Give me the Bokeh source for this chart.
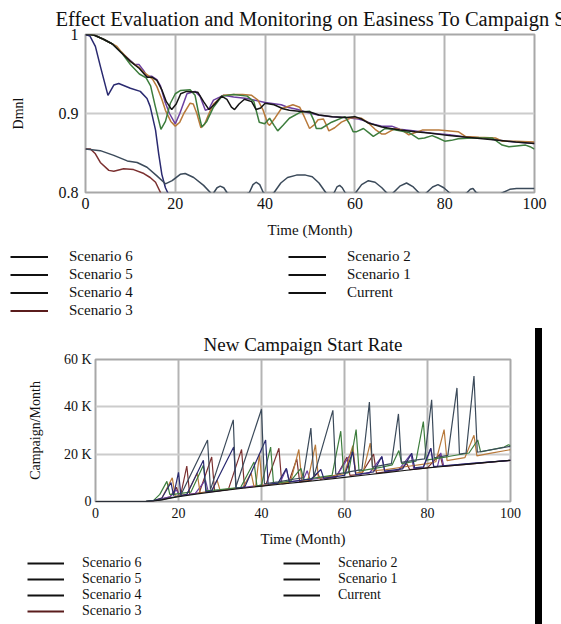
from bokeh.plotting import figure
from bokeh.models import Range1d, FixedTicker, Legend, LegendItem, Div
from bokeh.layouts import column, row
from bokeh.embed import file_html
from bokeh.resources import INLINE

FONT = "Liberation Serif"

# ---------------- data ----------------
series_names = ["Scenario 6", "Scenario 5", "Scenario 4", "Scenario 3",
                "Scenario 2", "Scenario 1", "Current"]

top_title = "Effect Evaluation and Monitoring on Easiness To Campaign Start"
top_ylabel = "Dmnl"
top_y_ticks = [0.8, 0.9, 1.0]
top_y_labels = ["0.8", "0.9", "1"]
x_ticks = [0, 20, 40, 60, 80, 100]
xlabel = "Time (Month)"

top_s6_t = [0, 1, 2.2, 3.3, 5, 6.3, 7.4, 10, 12.2, 13.7, 14.4, 15.6, 16.3, 17, 17.8, 18.3, 19, 22, 30, 100]
top_s6_v = [1.0, 0.998, 0.985, 0.96, 0.923, 0.936, 0.938, 0.932, 0.928, 0.919, 0.909, 0.879, 0.849, 0.823, 0.806, 0.8, 0.79, 0.775, 0.76, 0.74]

top_s5_t = [0, 3.3, 6.3, 9.3, 11.5, 13.7, 15.9, 17.8, 19.3, 21.1, 22.2, 24.1, 26.3, 27.8, 28.2,
            28.6, 29.3, 30, 30.8, 31.5, 33.5, 36.5, 37.3, 38, 38.8, 39.6, 40.8,
            42, 43.5, 45, 47, 49, 50.5, 52, 53.5, 54.5, 55.4, 56, 56.6, 57.2, 57.8, 59,
            60.2, 61.5, 63, 64.5, 66, 67, 67.8, 68.6, 70, 71.5, 73, 74.2, 75.2,
            76, 77.3, 78.5, 79.8, 81, 83, 85, 85.7, 86.3, 87, 90, 93, 94.5, 96, 100]
top_s5_v = [0.855, 0.853, 0.847, 0.840, 0.838, 0.832, 0.821, 0.811, 0.815, 0.823, 0.824, 0.819, 0.809, 0.8, 0.796,
            0.8, 0.806, 0.808, 0.806, 0.8, 0.792, 0.8, 0.81, 0.813, 0.81, 0.8, 0.795,
            0.8, 0.812, 0.819, 0.822, 0.822, 0.82, 0.812, 0.8, 0.796, 0.8, 0.807, 0.809, 0.806, 0.8, 0.795,
            0.8, 0.81, 0.815, 0.813, 0.806, 0.8, 0.796, 0.8, 0.808, 0.812, 0.807, 0.8, 0.796,
            0.8, 0.807, 0.81, 0.806, 0.8, 0.792, 0.8, 0.804, 0.805, 0.8, 0.792, 0.8, 0.804, 0.805, 0.805]

top_s4_t = [0, 1, 2, 4, 6, 8, 10, 12, 13.7, 14.8, 15.9, 17, 18, 19.2, 20.2, 21.2, 22.5, 25, 26.3, 27.5,
            28.8, 30.3, 31.5, 32.5, 33.2, 34.2, 35.4, 37, 38, 39, 40, 42, 44, 45.4, 47.5, 50, 52, 55,
            58, 60, 61.5, 63, 66, 70, 73.4, 77, 81, 85, 88.4, 92, 95.8, 100]
top_s4_v = [1.0, 1.0, 0.999, 0.994, 0.988, 0.977, 0.966, 0.957, 0.946, 0.946, 0.942, 0.93, 0.915, 0.905, 0.912, 0.925, 0.928, 0.927, 0.915, 0.905,
            0.912, 0.922, 0.918, 0.908, 0.905, 0.912, 0.918, 0.915, 0.905, 0.907, 0.913, 0.911, 0.906, 0.904, 0.903, 0.902, 0.898, 0.896,
            0.895, 0.896, 0.893, 0.888, 0.883, 0.879, 0.877, 0.875, 0.872, 0.87, 0.868, 0.866, 0.864, 0.862]

top_s3_t = [0, 1.1, 2.2, 3.3, 5.2, 6.3, 8.5, 10.7, 13, 14.4, 15.6, 16.7, 17.5, 20, 100]
top_s3_v = [0.855, 0.855, 0.849, 0.838, 0.828, 0.827, 0.830, 0.829, 0.824, 0.819, 0.813, 0.8, 0.792, 0.78, 0.7]

top_s2_t = [0, 1, 2, 4, 6, 8, 10, 12, 13.5, 14.5, 15.5, 16.8, 17.8, 18.9, 20, 21.1, 23.3, 24.4, 25.2, 25.9,
            27, 28.5, 30.4, 33, 36, 37.5, 38.7, 39.9, 41, 42, 42.8, 44, 45.4, 48, 49.9, 50.8, 51.4, 52.5,
            54.8, 57.8, 58.8, 59.6, 60.4, 61.9, 63, 64.1, 65.5, 66.7, 68.2, 70, 72, 74.2, 75.5, 77.2, 78.5,
            80, 81.5, 83, 86, 88, 90.6, 91.8, 92.8, 94.3, 96, 98, 99, 100]
top_s2_v = [1.0, 1.0, 0.999, 0.994, 0.988, 0.977, 0.962, 0.95, 0.945, 0.935, 0.91, 0.88, 0.89, 0.913, 0.925, 0.929, 0.93, 0.923, 0.9, 0.883,
            0.89, 0.908, 0.922, 0.924, 0.922, 0.915, 0.889, 0.887, 0.894, 0.885, 0.878, 0.885, 0.894, 0.902, 0.903, 0.892, 0.881, 0.881,
            0.889, 0.896, 0.887, 0.877, 0.877, 0.881, 0.876, 0.871, 0.876, 0.881, 0.88, 0.878, 0.876, 0.868, 0.869, 0.872, 0.869,
            0.865, 0.866, 0.868, 0.869, 0.869, 0.869, 0.864, 0.86, 0.858, 0.859, 0.86, 0.858, 0.855]

top_s1_t = [0, 1, 2, 4, 6, 7, 8, 10, 11, 12, 13, 14, 15, 15.9, 17, 17.8, 19, 20, 21, 21.9, 23.3, 24, 24.8, 25.7,
            26.5, 27.5, 28.5, 30.7, 33, 35, 37, 38.4, 39.5, 40.6, 41, 42.3, 43.6, 46.2, 47.7, 48.8, 49.9, 51,
            51.8, 53, 53.6, 54.2, 55.5, 57, 59.3, 61.5, 63, 64.5, 66, 66.7, 68, 69, 70.5, 72, 73.5, 75, 78.7,
            83, 84.6, 87.6, 91.3, 92.8, 95.8, 100]
top_s1_v = [1.0, 1.0, 0.999, 0.994, 0.988, 0.985, 0.978, 0.966, 0.962, 0.958, 0.952, 0.948, 0.943, 0.934, 0.918, 0.904, 0.89, 0.884, 0.889, 0.9, 0.913, 0.912, 0.9, 0.882,
            0.886, 0.9, 0.912, 0.923, 0.924, 0.924, 0.923, 0.917, 0.905, 0.887, 0.885, 0.895, 0.906, 0.911, 0.908, 0.895, 0.881, 0.886,
            0.892, 0.893, 0.886, 0.878, 0.882, 0.889, 0.895, 0.894, 0.888, 0.88, 0.874, 0.874, 0.878, 0.881, 0.879, 0.873, 0.876, 0.879, 0.879,
            0.877, 0.871, 0.87, 0.869, 0.865, 0.865, 0.864]

top_cur_t = [0, 1, 2, 4, 6, 8, 10, 11, 11.9, 13, 13.7, 14.8, 15.9, 16.7, 17.7, 18.7, 20, 21, 22.6, 24.4, 25.5,
             26.7, 27.5, 28.5, 30.7, 33, 36, 40, 43.6, 45, 47.3, 49, 51.8, 54.8, 57.8, 60.8, 62.5, 63.7, 66,
             68.2, 70, 73.4, 77, 81, 85, 88.4, 92, 95.8, 100]
top_cur_v = [1.0, 1.0, 0.999, 0.994, 0.988, 0.977, 0.967, 0.962, 0.962, 0.954, 0.947, 0.947, 0.943, 0.935, 0.915, 0.9, 0.887, 0.9, 0.925, 0.928, 0.922,
             0.904, 0.906, 0.917, 0.923, 0.921, 0.919, 0.914, 0.911, 0.908, 0.905, 0.902, 0.898, 0.896, 0.895, 0.893, 0.89, 0.887, 0.884,
             0.884, 0.88, 0.878, 0.875, 0.873, 0.87, 0.869, 0.866, 0.864, 0.862]

bot_title = "New Campaign Start Rate"
bot_ylabel = "Campaign/Month"
bot_y_ticks = [0, 20000, 40000, 60000]
bot_y_labels = ["0", "20 K", "40 K", "60 K"]

# bottom chart values in thousands of campaigns per month
bot_s6_t = [0, 12, 14, 16, 18.2, 18.8, 20, 20.6, 22, 26, 26.6, 28, 33.3, 33.9, 36, 41, 41.6, 44, 46, 46.7,
            52, 54.3, 55, 60, 62, 62.7, 67, 69, 69.7, 74, 76.2, 76.9, 79, 80.8, 81.5, 90, 100]
bot_s6_k = [0, 0, 0.4, 1.5, 8, 2.5, 12.3, 2.5, 3, 17.4, 4, 4.5, 23, 5.5, 6.2, 26, 7.3, 7.8, 14, 8.3,
            9.5, 13.5, 9.8, 11, 21, 11.4, 12.5, 19, 12.8, 13.8, 20.4, 14.2, 14.6, 22.5, 14.8, 16, 17.4]

bot_s5_t = [0, 12, 15, 18, 20.5, 27, 27.7, 33.2, 33.8, 40, 40.7, 44, 48, 50, 51.9, 52.6, 57.2, 57.9, 61,
            64.2, 66, 66.7, 71.3, 73, 73.7, 77, 79.3, 81, 81.6, 84.9, 87.1, 87.7, 89.3, 91.2, 92, 100]
bot_s5_k = [0, 0, 0.5, 1.5, 2.5, 26, 5, 34.5, 6, 39, 7.5, 8.3, 9.5, 10, 31, 10.5, 38.5, 11.5, 12.5,
            13.5, 42, 14.5, 16, 37, 16.5, 17.5, 18, 43, 18.5, 19.5, 48, 20, 20.5, 53, 20.8, 23.3]

bot_s4_t = [0, 12, 14, 16, 18, 20, 25, 30, 35, 40, 45, 50, 55, 60, 65, 70, 75, 80, 85, 90, 95, 100]
bot_s4_k = [0, 0, 0.2, 0.7, 1.4, 2.0, 3.3, 4.5, 5.5, 6.5, 7.4, 8.3, 9.2, 10.2, 11.2, 12.2, 13.2, 14.2, 15.0, 15.8, 16.6, 17.4]

bot_s3_t = [0, 12, 14, 16, 18, 19.5, 20.2, 20.5, 22, 22.7, 25, 28, 28.7, 32, 35.2, 35.9, 41, 44.2, 44.9, 46.5,
            48.5, 49.2, 52, 53.5, 54.2, 58, 60.6, 61.3, 64, 67, 67.7, 70, 73, 75, 75.7, 80, 83, 83.7, 90, 100]
bot_s3_k = [0, 0, 0.3, 1, 2, 6, 2.4, 2.5, 15, 3, 3.7, 18.8, 4.3, 5, 22, 5.8, 6.8, 22.5, 7.4, 7.8,
            18, 8.3, 9, 12, 9.3, 10.3, 18.8, 11, 11.5, 20, 12, 12.5, 13.2, 16, 13.5, 14.2, 20, 14.8, 15.8, 17.4]

bot_s2_t = [0, 12, 14, 15.5, 17.2, 17.9, 19, 20, 23, 26, 26.7, 30, 35, 38.2, 38.9, 40, 42.2, 42.9, 47,
            49.5, 50.2, 53, 57, 59.1, 59.8, 61, 62.8, 63.5, 69, 71.5, 73.1, 73.8, 77.2, 79, 79.7, 85, 90,
            92.1, 92.8, 98.5, 99.5, 100]
bot_s2_k = [0, 0, 0.5, 3, 8.5, 3, 3, 3.3, 4, 15.3, 4.5, 5, 6, 16.7, 6.5, 7, 23, 7.6, 8.6,
            14, 9.2, 10, 11, 29.7, 11.8, 12.2, 30.4, 12.8, 14.5, 15.5, 21.5, 16, 17, 33.8, 17.5, 19, 20.5,
            26, 21, 23, 24, 23.6]

bot_s1_t = [0, 12, 14, 16, 18.5, 19.2, 22, 24.5, 25.2, 28, 29.3, 30, 35.5, 37.5, 38.2, 38.6, 39.5, 40.2, 47,
            49, 49.7, 51.2, 53, 53.7, 60, 62, 62.7, 64.5, 66.2, 66.9, 70, 75, 80, 82, 84, 84.7, 89, 91.2,
            91.9, 95, 100]
bot_s1_k = [0, 0, 0.3, 1.5, 10, 2.2, 3, 12, 3.7, 4.5, 9, 4.8, 5.9, 12, 6.3, 6.5, 20, 6.7, 8.3,
            22, 8.8, 9.1, 24, 9.8, 11.8, 23.6, 12, 12.5, 24.7, 13, 13.5, 14.8, 16, 16.8, 30.4, 17.3, 18.5, 28,
            19.3, 20.3, 21.9]

bot_cur_t = [0, 12, 14, 16, 18, 19.5, 20.2, 24, 26.5, 27.2, 30, 33, 35, 38, 42, 44.5, 46, 46.7, 50, 51, 51.7,
             55, 58, 62, 62.7, 66, 69, 69.7, 73, 76, 76.7, 79, 80.8, 81.5, 82.4, 83.2, 83.9, 90, 95, 100]
bot_cur_k = [0, 0, 0.3, 1.2, 2, 5, 2.4, 3.3, 9, 4, 4.6, 5.4, 5.8, 6.5, 7.3, 8, 13.8, 8.3, 9, 13, 9.3,
             10, 10.6, 21.5, 11.3, 12, 19, 12.6, 13.3, 20, 13.8, 14.3, 22.5, 14.6, 14.8, 20.5, 15, 16, 16.7, 17.4]

# ---------------- styles ----------------
line_colors = {
    "Scenario 6": "#2a2a70",
    "Scenario 5": "#3b4a5a",
    "Scenario 4": "#151515",
    "Scenario 3": "#7b3030",
    "Scenario 2": "#3d7d3d",
    "Scenario 1": "#b8793a",
    "Current": "#6b3fa0",
}
legend_colors = {n: "#111111" for n in series_names}
legend_colors["Scenario 3"] = "#5a1c1c"

top_data = {
    "Scenario 6": (top_s6_t, top_s6_v),
    "Scenario 5": (top_s5_t, top_s5_v),
    "Scenario 4": (top_s4_t, top_s4_v),
    "Scenario 3": (top_s3_t, top_s3_v),
    "Scenario 2": (top_s2_t, top_s2_v),
    "Scenario 1": (top_s1_t, top_s1_v),
    "Current": (top_cur_t, top_cur_v),
}
bot_data = {
    "Scenario 6": (bot_s6_t, [k * 1000 for k in bot_s6_k]),
    "Scenario 5": (bot_s5_t, [k * 1000 for k in bot_s5_k]),
    "Scenario 4": (bot_s4_t, [k * 1000 for k in bot_s4_k]),
    "Scenario 3": (bot_s3_t, [k * 1000 for k in bot_s3_k]),
    "Scenario 2": (bot_s2_t, [k * 1000 for k in bot_s2_k]),
    "Scenario 1": (bot_s1_t, [k * 1000 for k in bot_s1_k]),
    "Current": (bot_cur_t, [k * 1000 for k in bot_cur_k]),
}
draw_order = ["Scenario 3", "Current", "Scenario 1", "Scenario 2", "Scenario 6", "Scenario 5", "Scenario 4"]
NAN = float("nan")


def style_axes(p, tick_size, y_ticks, y_labels, ylabel, ylab_size, x_tick_standoff,
               y_tick_standoff, y_label_standoff, title_size):
    p.xaxis.ticker = FixedTicker(ticks=x_ticks)
    p.yaxis.ticker = FixedTicker(ticks=y_ticks)
    p.yaxis.major_label_overrides = {t: l for t, l in zip(y_ticks, y_labels)}
    for ax in (p.xaxis[0], p.yaxis[0]):
        ax.axis_line_color = None
        ax.major_tick_line_color = None
        ax.minor_tick_line_color = None
        ax.major_tick_out = 0
        ax.major_tick_in = 0
        ax.minor_tick_out = 0
        ax.minor_tick_in = 0
        ax.major_label_text_font = FONT
        ax.major_label_text_font_size = tick_size
        ax.major_label_text_color = "#111111"
        ax.axis_label_text_font = FONT
        ax.axis_label_text_font_style = "normal"
        ax.axis_label_text_font_size = "15px"
        ax.axis_label_text_color = "#111111"
    p.yaxis.axis_label_text_font_size = ylab_size
    p.xaxis.axis_label = xlabel
    p.yaxis.axis_label = ylabel
    p.xaxis.major_label_standoff = x_tick_standoff
    p.yaxis.major_label_standoff = y_tick_standoff
    p.xaxis.axis_label_standoff = 10
    p.yaxis.axis_label_standoff = y_label_standoff
    p.outline_line_color = "#a8a8a8"
    p.outline_line_width = 2
    p.xgrid.grid_line_color = "#b4b4b4"
    p.xgrid.grid_line_width = 2
    p.ygrid.grid_line_color = "#cccccc"
    p.ygrid.grid_line_width = 2
    p.title.text_font = FONT
    p.title.text_font_style = "normal"
    p.title.text_font_size = title_size
    p.title.text_color = "#111111"


def legend_fig(width, height, loc, glyph_w, standoff, label_w, row_h, spacing, font_size):
    f = figure(width=width, height=height, output_backend="svg", toolbar_location=None,
               x_range=Range1d(0, 1), y_range=Range1d(0, 1),
               x_axis_location=None, y_axis_location=None,
               min_border_left=0, min_border_right=0, min_border_top=0, min_border_bottom=0)
    f.outline_line_color = None
    f.grid.visible = False
    items = []
    for n in series_names:
        r = f.line([NAN], [NAN], line_color=legend_colors[n], line_width=2)
        items.append(LegendItem(label=n, renderers=[r]))
    lg = Legend(items=items, location=loc, orientation="vertical", nrows=4,
                glyph_width=glyph_w, glyph_height=row_h, label_standoff=standoff,
                label_width=label_w, label_height=row_h, spacing=spacing, padding=0, margin=0,
                border_line_color=None, background_fill_alpha=0,
                label_text_font=FONT, label_text_font_size=font_size, label_text_color="#111111")
    f.add_layout(lg, "center")
    return f


# ---------------- top chart ----------------
p1 = figure(width=561, height=242, output_backend="svg", toolbar_location=None,
            x_range=Range1d(0, 100), y_range=Range1d(0.8, 1.0),
            min_border_left=85, min_border_right=27, min_border_top=34, min_border_bottom=50,
            title=top_title)
p1.title.align = "left"
p1.title.offset = -30
p1.title.standoff = 10
style_axes(p1, "16px", top_y_ticks, top_y_labels, top_ylabel, "14px", 5, 7, 30, "20.5px")
for n in draw_order:
    t, v = top_data[n]
    p1.line(t, v, line_color=line_colors[n], line_width=1.5)

leg1 = legend_fig(561, 80, (10, 3), 38, 21, 218, 17, 1, "15px")

# ---------------- bottom chart ----------------
p2 = figure(width=535, height=227, output_backend="svg", toolbar_location=None,
            x_range=Range1d(0, 100), y_range=Range1d(0, 60000),
            min_border_left=95, min_border_right=25, min_border_top=37, min_border_bottom=46,
            title=bot_title)
p2.title.align = "center"
p2.title.standoff = 9
style_axes(p2, "14px", bot_y_ticks, bot_y_labels, bot_ylabel, "14px", 6, 4, 18, "19px")
for n in draw_order:
    t, v = bot_data[n]
    p2.line(t, v, line_color=line_colors[n], line_width=1.2)

leg2 = legend_fig(535, 75, (27, 5), 37, 18, 201, 16, 0, "14px")

bar = Div(width=7, height=296, margin=(6, 0, 0, 0), styles={"background-color": "#000000"})

layout = column(p1, row(leg1), row(column(p2, row(leg2)), bar))
open("out.html", "w").write(file_html(layout, INLINE))
